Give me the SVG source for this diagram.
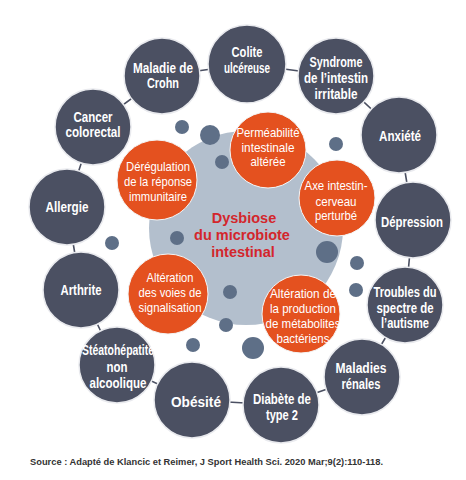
<svg xmlns="http://www.w3.org/2000/svg" width="466" height="480" viewBox="0 0 466 480">
<style>
.outer{fill:#4b5062;stroke:#e9eaee;stroke-width:1.5}
.orange{fill:#e4511f;stroke:#f4f4f4;stroke-width:1}
.dot{fill:#5e6f87}
.link{stroke:#4b5062;stroke-width:1.6;fill:none}
.ot{font-family:"Liberation Sans",Arial,sans-serif;font-weight:bold;font-size:14px;fill:#ffffff;text-anchor:middle}
.rt{font-family:"Liberation Sans",Arial,sans-serif;font-size:13.5px;fill:#ffffff;text-anchor:middle}
.ct{font-family:"Liberation Sans",Arial,sans-serif;font-weight:bold;font-size:14.5px;fill:#d3262c;text-anchor:middle}
.src{font-family:"Liberation Sans",Arial,sans-serif;font-weight:bold;font-size:9px;fill:#333333}
</style>
<rect width="466" height="480" fill="#ffffff"/>
<g id="connectors">
<polyline class="link" points="247,64 336,76 399,135 413,220 405,305 362,377 281,405 192,400 117,365 81,290 67,207 93,127 162,76 247,64"/>
</g>
<g id="center">
<circle cx="246" cy="228" r="97" fill="#b3bfcd"/>
</g>
<g id="dots">
<circle class="dot" cx="182" cy="127" r="7"/>
<circle class="dot" cx="210" cy="135" r="10"/>
<circle class="dot" cx="222" cy="162" r="7"/>
<circle class="dot" cx="336" cy="144" r="7"/>
<circle class="dot" cx="177" cy="238" r="7"/>
<circle class="dot" cx="112" cy="243" r="7"/>
<circle class="dot" cx="327" cy="252" r="11"/>
<circle class="dot" cx="357" cy="263" r="7"/>
<circle class="dot" cx="356" cy="290" r="7"/>
<circle class="dot" cx="230" cy="292" r="7"/>
<circle class="dot" cx="226" cy="325" r="7"/>
<circle class="dot" cx="193" cy="345" r="7"/>
<circle class="dot" cx="253" cy="348" r="11"/>
</g>
<g id="center-label">
<text class="ct" x="244" y="223">Dysbiose</text>
<text class="ct" x="242" y="240">du microbiote</text>
<text class="ct" x="243" y="257">intestinal</text>
</g>
<g id="permeabilite">
<circle class="orange" cx="268" cy="150" r="38"/>
<text class="rt" x="268" y="137" textLength="63" lengthAdjust="spacingAndGlyphs">Perméabilité</text>
<text class="rt" x="268" y="152" textLength="53" lengthAdjust="spacingAndGlyphs">intestinale</text>
<text class="rt" x="268" y="166" textLength="35" lengthAdjust="spacingAndGlyphs">altérée</text>
</g>
<g id="deregulation">
<circle class="orange" cx="157" cy="180" r="40"/>
<text class="rt" x="158" y="171" textLength="64" lengthAdjust="spacingAndGlyphs">Dérégulation</text>
<text class="rt" x="158" y="186" textLength="68" lengthAdjust="spacingAndGlyphs">de la réponse</text>
<text class="rt" x="158" y="201" textLength="58" lengthAdjust="spacingAndGlyphs">immunitaire</text>
</g>
<g id="axe">
<circle class="orange" cx="337" cy="198" r="38"/>
<text class="rt" x="336" y="190" textLength="63" lengthAdjust="spacingAndGlyphs">Axe intestin-</text>
<text class="rt" x="336" y="206" textLength="41" lengthAdjust="spacingAndGlyphs">cerveau</text>
<text class="rt" x="336" y="220" textLength="42" lengthAdjust="spacingAndGlyphs">perturbé</text>
</g>
<g id="voies">
<circle class="orange" cx="168" cy="294" r="40"/>
<text class="rt" x="170" y="282" textLength="47" lengthAdjust="spacingAndGlyphs">Altération</text>
<text class="rt" x="170" y="297" textLength="63" lengthAdjust="spacingAndGlyphs">des voies de</text>
<text class="rt" x="170" y="312" textLength="63" lengthAdjust="spacingAndGlyphs">signalisation</text>
</g>
<g id="metabolites">
<circle class="orange" cx="301" cy="314" r="39"/>
<text class="rt" x="303" y="298" textLength="66" lengthAdjust="spacingAndGlyphs">Altération de</text>
<text class="rt" x="303" y="313" textLength="66" lengthAdjust="spacingAndGlyphs">la production</text>
<text class="rt" x="303" y="328" textLength="75" lengthAdjust="spacingAndGlyphs">de métabolites</text>
<text class="rt" x="303" y="343" textLength="53" lengthAdjust="spacingAndGlyphs">bactériens</text>
</g>
<g id="colite">
<circle class="outer" cx="247" cy="64" r="39"/>
<text class="ot" x="247" y="57" textLength="31" lengthAdjust="spacingAndGlyphs">Colite</text>
<text class="ot" x="247" y="73" textLength="46" lengthAdjust="spacingAndGlyphs">ulcéreuse</text>
</g>
<g id="syndrome">
<circle class="outer" cx="336" cy="76" r="38"/>
<text class="ot" x="336" y="67" textLength="53" lengthAdjust="spacingAndGlyphs">Syndrome</text>
<text class="ot" x="336" y="83" textLength="64" lengthAdjust="spacingAndGlyphs">de l’intestin</text>
<text class="ot" x="336" y="99" textLength="43" lengthAdjust="spacingAndGlyphs">irritable</text>
</g>
<g id="anxiete">
<circle class="outer" cx="399" cy="135" r="38"/>
<text class="ot" x="400" y="141" textLength="42" lengthAdjust="spacingAndGlyphs">Anxiété</text>
</g>
<g id="depression">
<circle class="outer" cx="413" cy="220" r="38"/>
<text class="ot" x="412" y="227" textLength="62" lengthAdjust="spacingAndGlyphs">Dépression</text>
</g>
<g id="autisme">
<circle class="outer" cx="405" cy="305" r="38"/>
<text class="ot" x="405" y="297" textLength="63" lengthAdjust="spacingAndGlyphs">Troubles du</text>
<text class="ot" x="405" y="313" textLength="57" lengthAdjust="spacingAndGlyphs">spectre de</text>
<text class="ot" x="405" y="328" textLength="48" lengthAdjust="spacingAndGlyphs">l’autisme</text>
</g>
<g id="renales">
<circle class="outer" cx="362" cy="377" r="38"/>
<text class="ot" x="361" y="373" textLength="51" lengthAdjust="spacingAndGlyphs">Maladies</text>
<text class="ot" x="361" y="389" textLength="39" lengthAdjust="spacingAndGlyphs">rénales</text>
</g>
<g id="diabete">
<circle class="outer" cx="281" cy="405" r="38"/>
<text class="ot" x="282" y="404" textLength="58" lengthAdjust="spacingAndGlyphs">Diabète de</text>
<text class="ot" x="282" y="420" textLength="32" lengthAdjust="spacingAndGlyphs">type 2</text>
</g>
<g id="obesite">
<circle class="outer" cx="192" cy="400" r="38"/>
<text class="ot" x="196" y="407" textLength="50" lengthAdjust="spacingAndGlyphs">Obésité</text>
</g>
<g id="steatohepatite">
<circle class="outer" cx="117" cy="365" r="38"/>
<text class="ot" x="118" y="355" textLength="72" lengthAdjust="spacingAndGlyphs">Stéatohépatite</text>
<text class="ot" x="117" y="372" textLength="21" lengthAdjust="spacingAndGlyphs">non</text>
<text class="ot" x="118" y="388" textLength="57" lengthAdjust="spacingAndGlyphs">alcoolique</text>
</g>
<g id="arthrite">
<circle class="outer" cx="81" cy="290" r="38"/>
<text class="ot" x="81" y="295" textLength="41" lengthAdjust="spacingAndGlyphs">Arthrite</text>
</g>
<g id="allergie">
<circle class="outer" cx="67" cy="207" r="38"/>
<text class="ot" x="67" y="212" textLength="43" lengthAdjust="spacingAndGlyphs">Allergie</text>
</g>
<g id="cancer">
<circle class="outer" cx="93" cy="127" r="38"/>
<text class="ot" x="93" y="122" textLength="39" lengthAdjust="spacingAndGlyphs">Cancer</text>
<text class="ot" x="93" y="137" textLength="55" lengthAdjust="spacingAndGlyphs">colorectal</text>
</g>
<g id="crohn">
<circle class="outer" cx="162" cy="76" r="38"/>
<text class="ot" x="163" y="73" textLength="60" lengthAdjust="spacingAndGlyphs">Maladie de</text>
<text class="ot" x="163" y="88" textLength="32" lengthAdjust="spacingAndGlyphs">Crohn</text>
</g>
<text class="src" x="30" y="465" textLength="353" lengthAdjust="spacingAndGlyphs">Source : Adapté de Klancic et Reimer, J Sport Health Sci. 2020 Mar;9(2):110-118.</text>
</svg>
